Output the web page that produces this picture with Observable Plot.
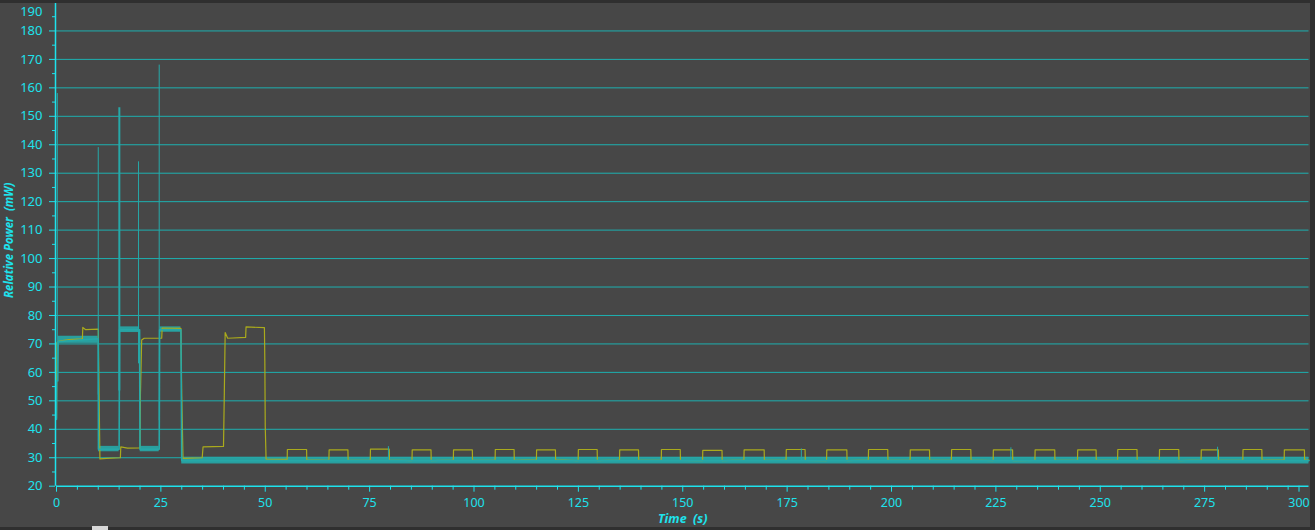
<!DOCTYPE html>
<html>
<head>
<meta charset="utf-8">
<script src="https://cdn.jsdelivr.net/npm/d3@7"></script>
<script src="https://cdn.jsdelivr.net/npm/@observablehq/plot@0.6"></script>
<style>
  html, body { margin: 0; padding: 0; background: #474747; }
  #wrap { position: relative; width: 1315px; height: 530px; overflow: hidden; }
  .bar { position: absolute; background: #2f2f2f; }
</style>
</head>
<body>
<div id="wrap">
  <div id="chart"></div>
  <div class="bar" style="left:0;top:0;width:1315px;height:3px;"></div>
  <div class="bar" style="left:1310px;top:0;width:5px;height:530px;"></div>
  <div class="bar" style="left:0;top:527px;width:1315px;height:3px;"></div>
  <div style="position:absolute;left:92px;top:526px;width:16px;height:4px;background:#d8d8d8;"></div>
</div>
<script>
// ---- tick labels ----
const xMajor = [0, 25, 50, 75, 100, 125, 150, 175, 200, 225, 250, 275];
const xLast = [300];
const xMinor = [5, 10, 15, 20, 30, 35, 40, 45, 55, 60, 65, 70, 80, 85, 90, 95, 105, 110, 115, 120,
  130, 135, 140, 145, 155, 160, 165, 170, 180, 185, 190, 195, 205, 210, 215, 220, 230, 235, 240, 245,
  255, 260, 265, 270, 280, 285, 290, 295];
const yMajor = [20, 30, 40, 50, 60, 70, 80, 90, 100, 110, 120, 130, 140, 150, 160, 170, 180];
const yTop = [190];
const yMinor = [25, 35, 45, 55, 65, 75, 85, 95, 105, 115, 125, 135, 145, 155, 165, 175, 185];
const yGrid = [30, 40, 50, 60, 70, 80, 90, 100, 110, 120, 130, 140, 150, 160, 170, 180];

// ---- teal series: noisy bands (min/max envelope) ----
const bandT0 = [0.4, 10.05, 15.15, 20.05, 24.8, 30.0];
const bandT1 = [10.0, 15.0, 19.9, 24.6, 29.8, 300];
const bandLo = [70.2, 32.1, 74.0, 32.1, 74.1, 27.8];
const bandHi = [72.7, 34.0, 76.0, 34.0, 76.0, 30.2];

// ---- teal series: centre line ----
const tealT = [0, 0.05, 0.3, 0.4, 10.0, 10.02, 10.05, 15.0, 15.1, 19.9, 20.0, 24.6, 24.7, 29.8, 29.9, 30.0, 300];
const tealV = [43.5, 57, 57, 70.8, 71.8, 52.5, 33.0, 33.0, 75.0, 75.0, 33.0, 33.0, 75.0, 75.0, 52, 29.0, 29.0];

// ---- teal spikes ----
const spikeT  = [0.2, 10.0, 19.65, 24.6, 79.5, 178.4, 228.6, 278.1];
const spikeLo = [57, 52, 63, 43, 29, 29, 29, 29];
const spikeHi = [158, 139, 134, 168, 33.9, 33.1, 33.5, 33.7];
const wideSpikeT = [15.05];
const wideSpikeLo = [53.5];
const wideSpikeHi = [153];

// ---- yellow series ----
const yellowT = [0, 0.1, 0.6, 3.0, 6.2, 6.3, 7.0, 10.0, 10.2, 10.4, 12.0, 15.3, 15.4, 17.0, 20.0, 20.1, 20.4, 21.0,
  25.2, 25.3, 29.8, 30.0, 30.3, 34.9, 35.1, 40.0, 40.2, 40.4, 41.0, 45.3, 45.4, 49.8, 49.9, 50.0, 50.2, 55.2];
const yellowV = [44, 70.5, 71.0, 71.5, 71.8, 75.8, 75.0, 75.2, 52.5, 29.6, 29.8, 30.0, 33.8, 33.4, 33.5, 52.0, 71.4, 72.0,
  72.0, 75.6, 75.5, 52.0, 29.8, 30.0, 33.8, 34.0, 53.0, 74.0, 72.0, 72.3, 76.0, 75.7, 64.0, 41.0, 29.5, 29.4];
const pulseStart = [55.3, 65.3, 75.2, 85.2, 95.1, 105.1, 115.0, 125.0, 134.9, 144.9, 154.8, 164.7, 174.8,
  184.5, 194.5, 204.5, 214.4, 224.4, 234.4, 244.6, 254.2, 264.2, 274.2, 284.2, 294.1];
const pulseEnd = [59.9, 69.8, 79.7, 89.7, 99.6, 109.6, 119.5, 129.5, 139.4, 149.4, 159.4, 169.5, 179.3,
  189.3, 199.1, 209.1, 219.0, 229.0, 239.1, 249.0, 258.8, 268.8, 278.3, 288.7, 298.9];
const pulseHigh = [32.9, 32.8, 33.0, 32.8, 32.8, 32.9, 32.8, 32.9, 32.8, 32.9, 32.6, 32.8, 32.9,
  32.8, 32.9, 32.8, 32.9, 32.8, 32.8, 32.8, 32.9, 32.9, 32.8, 32.9, 32.8];
const pulseLow = [29.3, 29.1, 29.2, 29.0, 29.2, 29.1, 29.3, 29.0, 29.2, 29.1, 29.0, 29.2, 29.1,
  29.0, 29.2, 29.1, 29.2, 29.0, 29.1, 29.2, 29.1, 29.0, 29.2, 29.1, 29.2];

// ---- build tables ----
const bands = bandT0.map((t0, i) => ({t0, t1: bandT1[i], lo: bandLo[i], hi: bandHi[i]}));
const teal = tealT.map((t, i) => ({t, v: tealV[i]}));
const spikes = spikeT.map((t, i) => ({t, lo: spikeLo[i], hi: spikeHi[i]}));
const wideSpikes = wideSpikeT.map((t, i) => ({t, lo: wideSpikeLo[i], hi: wideSpikeHi[i]}));
const yellow = yellowT.map((t, i) => ({t, v: yellowV[i]}));
pulseStart.forEach((s, i) => {
  yellow.push({t: s - 0.05, v: pulseLow[i]});
  yellow.push({t: s, v: pulseHigh[i]});
  yellow.push({t: pulseEnd[i], v: pulseHigh[i]});
  yellow.push({t: pulseEnd[i] + 0.05, v: pulseLow[i]});
});
yellow.push({t: 300, v: 29.2});

const cyan = "#1ee2ec";
const grid = "#1db0b0";
const tealC = "#26a9a9";
const yel = "#aaaa1c";
const font = "'Noto Sans', 'Open Sans', sans-serif";

const chart = Plot.plot({
  width: 1315,
  height: 530,
  marginLeft: 56,
  marginRight: 6.5,
  marginTop: 2,
  marginBottom: 44.3,
  x: {domain: [0, 300]},
  y: {domain: [20, 190]},
  style: {background: "#474747", fontFamily: font, overflow: "visible"},
  marks: [
    Plot.gridY(yGrid, {stroke: grid, strokeOpacity: 1, strokeWidth: 1}),
    Plot.rect(bands, {x1: "t0", x2: "t1", y1: "lo", y2: "hi", fill: tealC, fillOpacity: 0.9}),
    Plot.line(yellow, {x: "t", y: "v", stroke: yel, strokeWidth: 1.2}),
    Plot.line(teal, {x: "t", y: "v", stroke: tealC, strokeWidth: 1.6}),
    Plot.ruleX(spikes, {x: "t", y1: "lo", y2: "hi", stroke: tealC, strokeWidth: 1}),
    Plot.ruleX(wideSpikes, {x: "t", y1: "lo", y2: "hi", stroke: tealC, strokeWidth: 2}),
    Plot.ruleY([20], {stroke: cyan, strokeWidth: 1.5}),
    Plot.ruleX([0], {stroke: cyan, strokeWidth: 1.5, dx: -1}),
    Plot.axisX(xMajor, {tickSize: 6, tickPadding: 6, color: cyan, fontSize: 12.5, label: null}),
    Plot.axisX(xLast, {tickSize: 6, tickPadding: 6, color: cyan, fontSize: 12.5, label: null, dx: -10}),
    Plot.axisX(xMinor, {tickSize: 4, tickFormat: () => "", color: cyan, label: null}),
    Plot.axisY(yMajor, {tickSize: 6, tickPadding: 7, color: cyan, fontSize: 13, label: null, dx: -1}),
    Plot.axisY(yMinor, {tickSize: 3, tickFormat: () => "", color: cyan, label: null, dx: -1}),
    Plot.axisY(yTop, {tickSize: 0, tickPadding: 13, color: cyan, fontSize: 13, label: null, dx: -1, dy: 9}),
    Plot.text(["Relative Power\u00a0 (mW)"], {frameAnchor: "left", textAnchor: "middle", rotate: -90, dx: -47, dy: -4,
      fill: cyan, fontSize: 11.5, fontWeight: "bold", fontStyle: "italic"}),
    Plot.text(["Time\u00a0 (s)"], {frameAnchor: "bottom", dy: 37, fill: cyan,
      fontSize: 12.5, fontWeight: "bold", fontStyle: "italic"})
  ]
});
document.getElementById("chart").appendChild(chart);
</script>
</body>
</html>
